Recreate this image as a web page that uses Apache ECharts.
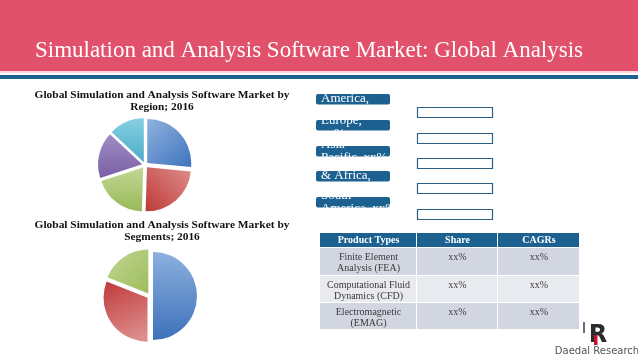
<!DOCTYPE html>
<html>
<head>
<meta charset="utf-8">
<script src="https://cdn.jsdelivr.net/npm/echarts@6/dist/echarts.min.js"></script>
<style>
html,body{margin:0;padding:0;background:#fff;}
#main{width:638px;height:359px;}
</style>
</head>
<body>
<div id="main"></div>
<script>
// ---- data ----
const slideTitle = 'Simulation and Analysis Software Market: Global Analysis';
const regionTitle = ['Global Simulation and Analysis Software Market by', 'Region; 2016'];
const segmentTitle = ['Global Simulation and Analysis Software Market by', 'Segments; 2016'];
const regionNames = ['North America', 'Europe', 'Asia Pacific', 'Middle East & Africa', 'South America'];
const regionShares = [26.5, 24, 19.5, 17, 13];
const segmentNames = ['Finite Element Analysis (FEA)', 'Computational Fluid Dynamics (CFD)', 'Electromagnetic (EMAG)'];
const segmentShares = [50, 31, 19];
const legendLines = [
  ['North', 'America,', 'xx%'],
  ['Europe,', 'xx%'],
  ['Asia', 'Pacific, xx%'],
  ['Middle East', '& Africa,', 'xx%'],
  ['South', 'America, xx%']
];
const tableHeaders = ['Product Types', 'Share', 'CAGRs'];
const tableRows = [
  [['Finite Element', 'Analysis (FEA)'], ['xx%'], ['xx%']],
  [['Computational Fluid', 'Dynamics (CFD)'], ['xx%'], ['xx%']],
  [['Electromagnetic', '(EMAG)'], ['xx%'], ['xx%']]
];
const brandName = 'Daedal Research';

// ---- styles / layout ----
const LG = (x, y, x2, y2, c1, c2) => new echarts.graphic.LinearGradient(x, y, x2, y2, [{offset: 0, color: c1}, {offset: 1, color: c2}]);
const regionColors = [
  LG(0, 0, 1, 1, '#8FB2DF', '#3F73BD'),
  LG(1, 0, 0, 1, '#DE8E8C', '#BE3A38'),
  LG(0.5, 0, 0.5, 1, '#C2D795', '#98B957'),
  LG(0.5, 0, 0.5, 1, '#A08DC5', '#7A60A6'),
  LG(0.5, 0, 0.5, 1, '#86CFE2', '#4CADC8')
];
const segmentColors = [
  LG(0, 0, 0, 1, '#8DB0DE', '#3D71BB'),
  LG(0, 0, 0.6, 1, '#C03A3A', '#DC8D8C'),
  LG(0, 0, 1, 1, '#C0D692', '#9DBC5C')
];

const serif = '"Liberation Serif", "DejaVu Serif", serif';
const graphics = [];
// header bar
graphics.push({type: 'rect', shape: {x: 0, y: 0, width: 638, height: 71}, style: {fill: '#E1516B'}, silent: true});
graphics.push({type: 'rect', shape: {x: 0, y: 71, width: 638, height: 2}, style: {fill: '#F6D8DE'}, silent: true});
graphics.push({type: 'rect', shape: {x: 0, y: 75, width: 638, height: 4}, style: {fill: '#1D6191'}, silent: true});
graphics.push({type: 'text', style: {text: slideTitle, x: 309, y: 51, font: '23px ' + serif, fill: '#FFFFFF', align: 'center', verticalAlign: 'middle'}, silent: true});

// chart titles
regionTitle.forEach((t, i) => graphics.push({type: 'text', style: {text: t, x: 162, y: 95 + i * 12, font: 'bold 11.4px ' + serif, fill: '#111', align: 'center', verticalAlign: 'middle'}, silent: true}));
segmentTitle.forEach((t, i) => graphics.push({type: 'text', style: {text: t, x: 162, y: 225 + i * 12, font: 'bold 11.4px ' + serif, fill: '#111', align: 'center', verticalAlign: 'middle'}, silent: true}));

// legend boxes
const boxY = [94, 120, 146, 171, 197];
const firstBaseline = [90, 125, 149, 167, 200];
const outlineY = [107, 133, 158, 183, 209];
legendLines.forEach((lines, i) => {
  graphics.push({type: 'rect', shape: {x: 316, y: boxY[i], width: 74, height: 10.5, r: 2}, style: {fill: '#1D6191'}, silent: true});
  lines.forEach((ln, j) => {
    graphics.push({type: 'text', style: {text: ln, x: 321, y: firstBaseline[i] + j * 13 - 4.5, font: '13px ' + serif, fill: '#FFFFFF', verticalAlign: 'middle'}, silent: true});
  });
  graphics.push({type: 'rect', shape: {x: 417.5, y: outlineY[i] + 0.5, width: 75, height: 10}, style: {fill: 'none', stroke: '#2A5F86', lineWidth: 1.2}, silent: true});
});

// table
const colX = [320, 417, 498, 580];
const rowY = [233, 248, 276, 303, 330];
const rowFill = ['#1D6191', '#D1D6E0', '#E8EAEF', '#D1D6E0'];
for (let r = 0; r < 4; r++) {
  for (let c = 0; c < 3; c++) {
    graphics.push({type: 'rect', shape: {x: colX[c], y: rowY[r], width: colX[c + 1] - colX[c] - 1, height: rowY[r + 1] - rowY[r] - 1}, style: {fill: rowFill[r]}, silent: true});
  }
}
tableHeaders.forEach((h, c) => graphics.push({type: 'text', style: {text: h, x: (colX[c] + colX[c + 1]) / 2, y: 240.5, font: 'bold 10px ' + serif, fill: '#FFFFFF', align: 'center', verticalAlign: 'middle'}, silent: true}));
tableRows.forEach((row, r) => {
  row.forEach((cell, c) => {
    cell.forEach((ln, j) => graphics.push({type: 'text', style: {text: ln, x: (colX[c] + colX[c + 1]) / 2, y: rowY[r + 1] + 9 + j * 11, font: '10px ' + serif, fill: '#3A3A3A', align: 'center', verticalAlign: 'middle'}, silent: true}));
  });
});

// logo
graphics.push({type: 'rect', shape: {x: 583, y: 322, width: 2, height: 11}, style: {fill: '#6E6E6E'}, silent: true});
graphics.push({type: 'text', style: {text: 'R', x: 598, y: 336, font: 'bold 24px "DejaVu Sans", sans-serif', fill: '#2B2B2B', align: 'center', verticalAlign: 'middle'}, silent: true});
graphics.push({type: 'rect', shape: {x: 594, y: 335, width: 3.5, height: 10}, style: {fill: '#C8102E'}, silent: true});
graphics.push({type: 'text', style: {text: brandName, x: 597, y: 351, font: '10px "DejaVu Sans", sans-serif', fill: '#555555', align: 'center', verticalAlign: 'middle'}, silent: true});

const pieBase = {
  type: 'pie', selectedMode: 'multiple', selectedOffset: 3, startAngle: 90, clockwise: true,
  label: {show: false}, labelLine: {show: false}, emphasis: {disabled: true}, silent: true, animation: false
};

const chart = echarts.init(document.getElementById('main'), null, {renderer: 'canvas'});
chart.setOption({
  backgroundColor: '#FFFFFF',
  animation: false,
  graphic: {elements: graphics},
  series: [
    Object.assign({}, pieBase, {
      center: [145, 165], radius: 44,
      data: regionNames.map((n, i) => ({name: n, value: regionShares[i], selected: true, itemStyle: {color: regionColors[i]}}))
    }),
    Object.assign({}, pieBase, {
      center: [150, 296], radius: 44,
      data: segmentNames.map((n, i) => ({name: n, value: segmentShares[i], selected: true, itemStyle: {color: segmentColors[i]}}))
    })
  ]
});
</script>
</body>
</html>
